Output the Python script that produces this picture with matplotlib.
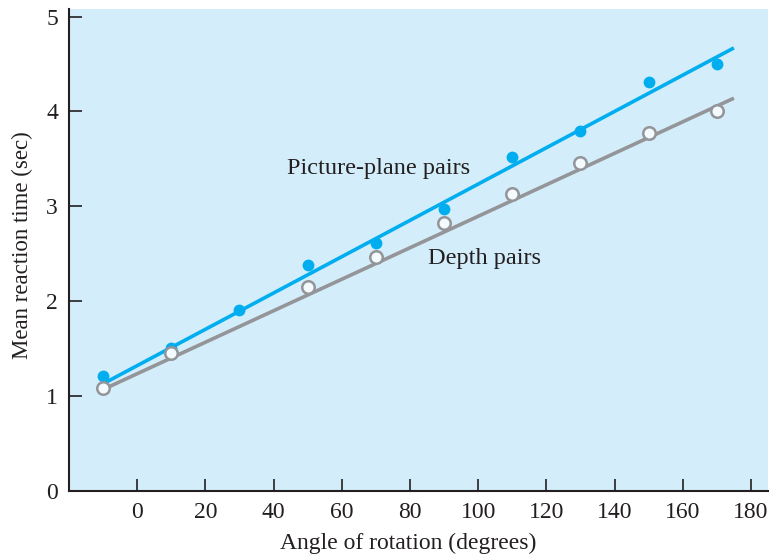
import matplotlib
matplotlib.use("Agg")
import matplotlib.pyplot as plt

# Mean reaction time by angle of rotation
picture_angles = [-10, 10, 30, 50, 70, 90, 110, 130, 150, 170]
picture_rt = [1.21, 1.51, 1.91, 2.38, 2.61, 2.97, 3.52, 3.79, 4.31, 4.50]

depth_angles = [-10, 10, 50, 70, 90, 110, 130, 150, 170]
depth_rt = [1.09, 1.45, 2.15, 2.47, 2.82, 3.13, 3.46, 3.77, 4.00]

# Fitted lines (endpoints)
fit_angles = [-10, 175]
picture_fit = [1.13, 4.67]
depth_fit = [1.07, 4.14]

x_ticks = [0, 20, 40, 60, 80, 100, 120, 140, 160, 180]
y_ticks = [0, 1, 2, 3, 4, 5]

BLUE = "#00aeef"
GREY = "#939598"
BG = "#d4edfa"
INK = "#231f20"

plt.rcParams["font.family"] = ["Liberation Serif", "DejaVu Serif"]

fig = plt.figure(figsize=(7.72, 5.57), dpi=100)
ax = fig.add_axes([69 / 772, 1 - 491 / 557, (768 - 69) / 772, (491 - 9) / 557])
ax.set_facecolor(BG)

ax.plot(fit_angles, depth_fit, color=GREY, lw=2.6, solid_capstyle="butt", zorder=2)
ax.plot(fit_angles, picture_fit, color=BLUE, lw=2.6, solid_capstyle="butt", zorder=2)
ax.plot(picture_angles, picture_rt, "o", color=BLUE, ms=8.5, mec="none", zorder=3)
ax.plot(depth_angles, depth_rt, "o", mfc="#f4fbfe", mec=GREY, mew=1.8, ms=9, zorder=4)

ax.text(44, 3.40, "Picture-plane pairs", fontsize=17.5, color=INK, va="center", ha="left")
ax.text(85.3, 2.45, "Depth pairs", fontsize=17.5, color=INK, va="center", ha="left")

ax.set_xlim(-20, 185)
ax.set_ylim(0, 5.08)
ax.set_xticks(x_ticks)
ax.set_yticks(y_ticks)
ax.tick_params(direction="in", length=9, width=1.2, color=INK, labelcolor=INK,
               labelsize=17, pad=8)
for side in ("top", "right"):
    ax.spines[side].set_visible(False)
for side in ("left", "bottom"):
    ax.spines[side].set_color(INK)
    ax.spines[side].set_linewidth(1.5)

ax.set_xlabel("Angle of rotation (degrees)", fontsize=17, color=INK)
ax.set_ylabel("Mean reaction time (sec)", fontsize=16.5, color=INK)
ax.xaxis.set_label_coords(0.485, (491 - 543) / (491 - 9), transform=ax.transAxes)
ax.yaxis.set_label_coords((22 - 69) / (768 - 69), (491 - 245) / (491 - 9), transform=ax.transAxes)
ax.xaxis.label.set_va("center")
ax.yaxis.label.set_va("center")

fig.savefig("out.png", dpi=100)
